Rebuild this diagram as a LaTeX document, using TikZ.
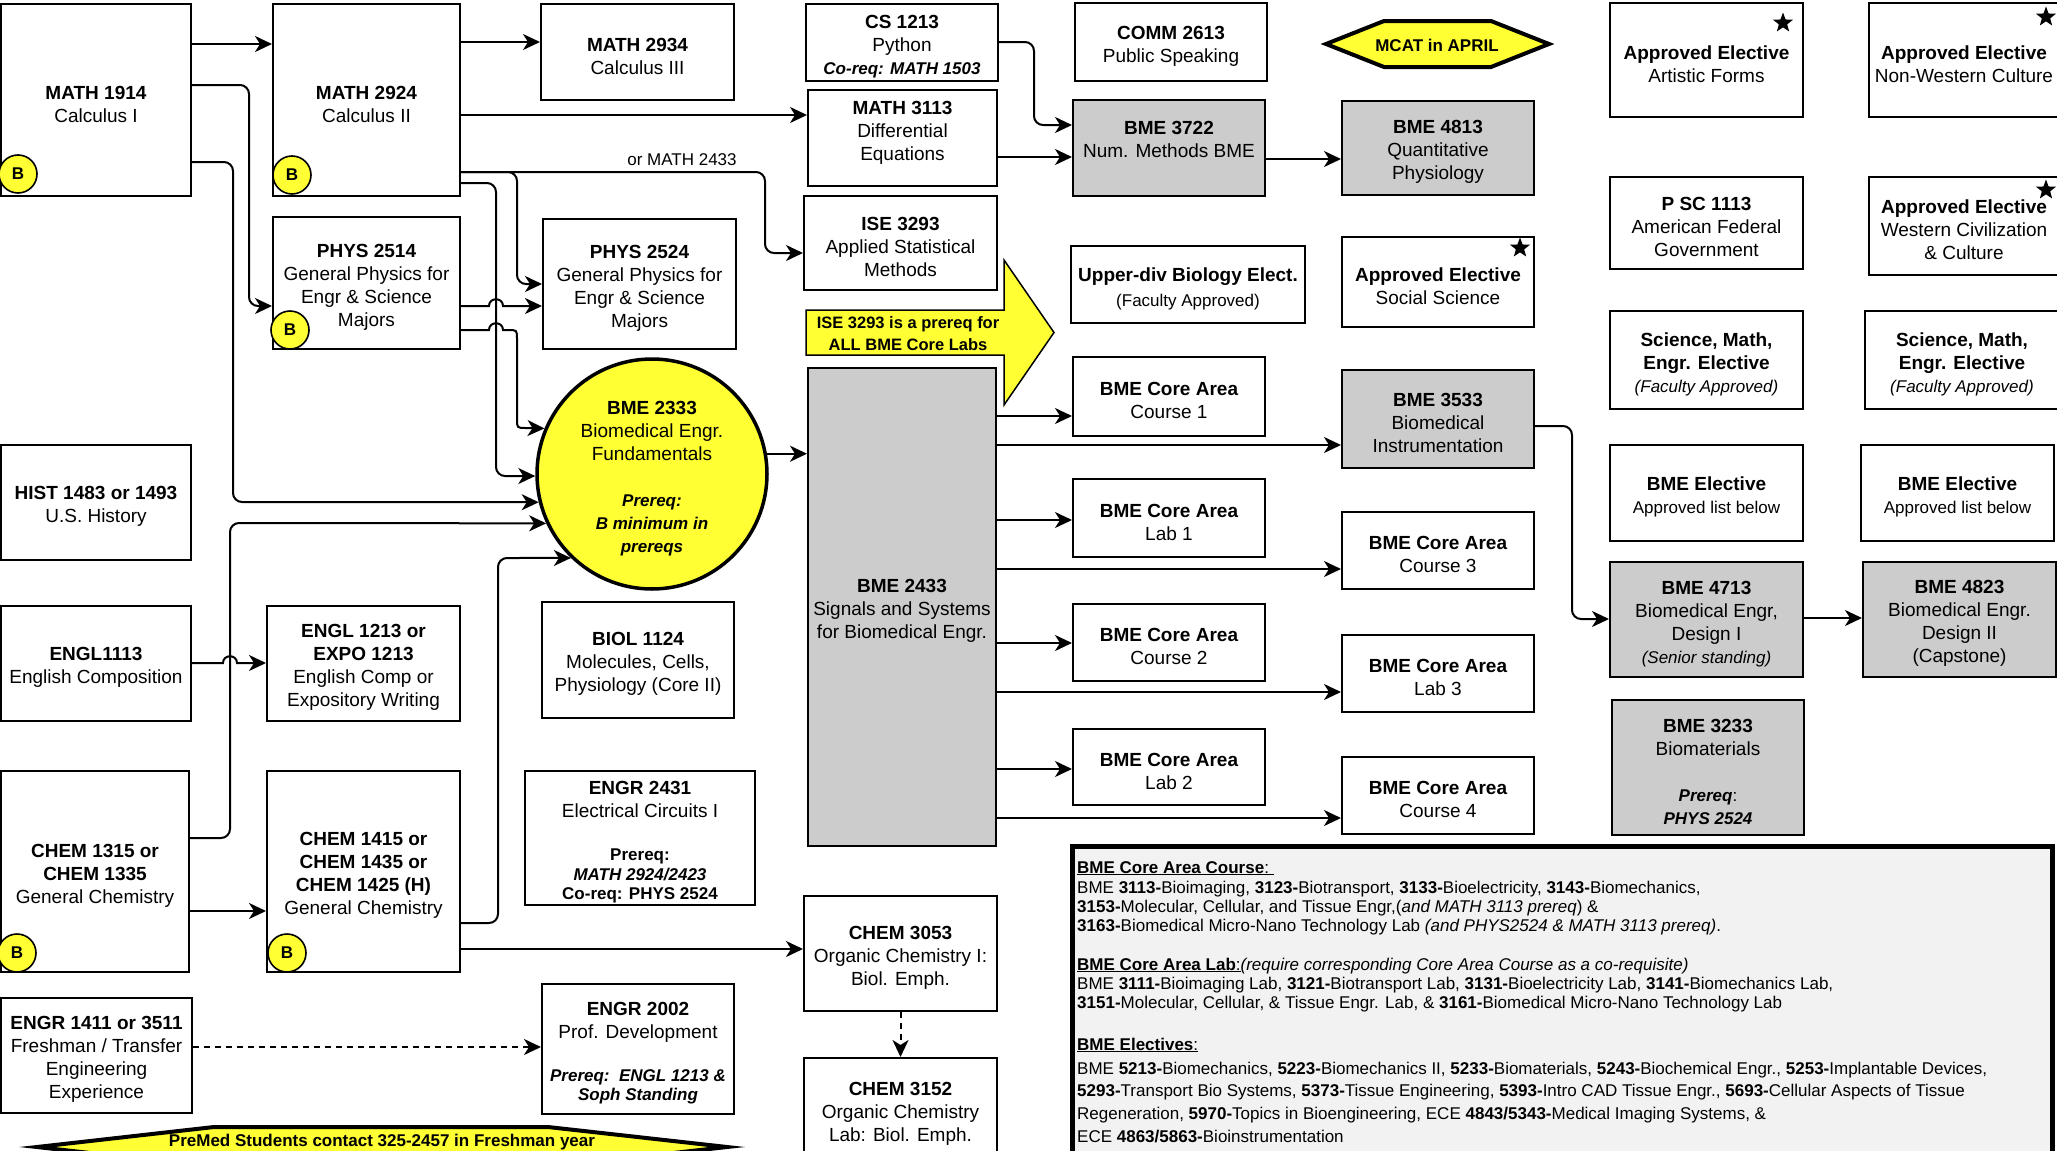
\documentclass[tikz,border=0pt]{standalone}
\usepackage{fontspec}
\setmainfont{Liberation Sans}
\usetikzlibrary{arrows.meta,shapes.geometric}
\newcommand\myfs[2]{\fontsize{#1}{#2}\selectfont}
\newcommand\bitx[1]{{\myfs{17}{23}\bfseries\itshape #1}}
\newcommand\smtx[1]{{\myfs{17}{23}#1}}
\newcommand\tx{\mbox{}\\[-1.3pt]}
\definecolor{yel}{HTML}{FFFF33}
\definecolor{gfill}{HTML}{CCCCCC}
\definecolor{lfill}{HTML}{F2F2F2}
\begin{document}
\begin{tikzpicture}[x=1pt,y=-1pt,
 box/.style={draw=black, line width=2pt, fill=white, align=center, inner sep=0pt, font=\myfs{19}{23}},
 gbox/.style={box, fill=gfill},
 sz/.style 2 args={minimum width=#1pt, minimum height=#2pt},
 arr/.style={draw=black, line width=2pt, -{Stealth[length=17pt,width=16pt,inset=5pt]}},
 dasharr/.style={arr, dash pattern=on 6pt off 5pt},
 bmark/.style={circle, draw=black, line width=1.6pt, fill=yel, minimum size=38pt, inner sep=0pt, font=\myfs{17}{20}\bfseries},
 starmark/.style={star, star points=5, star point ratio=2.4, fill=black, draw=none, minimum size=21pt, inner sep=0pt},
 legline/.style={anchor=base west, inner sep=0pt, font=\myfs{17}{19}},
 lbl/.style={inner sep=0pt, font=\myfs{17}{20}}
]
\useasboundingbox (0,0) rectangle (2057,1151);
\fill[white] (0,0) rectangle (2057,1151);

% ---------- left / middle course boxes ----------
\node[box, sz={190}{192}] (m1914) at (96,100) {\tx\textbf{MATH 1914}\\Calculus I};
\node[box, sz={187}{192}] (m2924) at (366.5,100) {\tx\textbf{MATH 2924}\\Calculus II};
\node[box, sz={193}{96}] (m2934) at (637.5,52) {\tx\textbf{MATH 2934}\\Calculus III};
\node[box, sz={187}{132}] (p2514) at (366.5,283) {\tx\textbf{PHYS 2514}\\General Physics for\\Engr \& Science\\Majors};
\node[box, sz={193}{130}] (p2524) at (639.5,284) {\tx\textbf{PHYS 2524}\\General Physics for\\Engr \& Science\\Majors};
\node[box, sz={192}{77}] (cs1213) at (902,42.5) {\tx\textbf{CS 1213}\\Python\\\bitx{Co-req: MATH 1503}};
\node[box, sz={189}{96}] (m3113) at (902.5,138) {\textbf{MATH 3113}\\Differential\\Equations\\[-8pt]\mbox{}};
\node[box, sz={193}{94}] (ise) at (900.5,243) {\tx\textbf{ISE 3293}\\Applied Statistical\\Methods};
\node[box, sz={192}{78}] (comm) at (1171,42) {\tx\textbf{COMM 2613}\\Public Speaking};
\node[gbox, sz={192}{96}] (b3722) at (1169,148) {\textbf{BME 3722}\\Num. Methods BME\\[-5pt]\mbox{}};
\node[gbox, sz={192}{94}] (b4813) at (1438,148) {\tx\textbf{BME 4813}\\Quantitative\\Physiology};
\node[box, sz={234}{77}] (upbio) at (1188,284.5) {\tx\textbf{Upper-div Biology Elect.}\\[2pt]\smtx{(Faculty Approved)}};
\node[box, sz={192}{90}] (social) at (1438,282) {\tx\textbf{Approved Elective}\\Social Science};

% ---------- right column boxes ----------
\node[box, sz={193}{114}] (artistic) at (1706.5,60) {\tx\textbf{Approved Elective}\\Artistic Forms};
\node[box, sz={190}{114}] (nonwest) at (1964,60) {\tx\textbf{Approved Elective}\\Non-Western Culture};
\node[box, sz={193}{92}] (psc) at (1706.5,223) {\tx\textbf{P SC 1113}\\American Federal\\Government};
\node[box, sz={190}{98}] (westciv) at (1964,226) {\tx\textbf{Approved Elective}\\Western Civilization\\\& Culture};
\node[box, sz={193}{98}] (sme1) at (1706.5,360) {\tx\textbf{Science, Math,}\\\textbf{Engr. Elective}\\\smtx{\itshape (Faculty Approved)}};
\node[box, sz={194}{98}] (sme2) at (1962,360) {\tx\textbf{Science, Math,}\\\textbf{Engr. Elective}\\\smtx{\itshape (Faculty Approved)}};
\node[box, sz={193}{96}] (bel1) at (1706.5,493) {\tx\textbf{BME Elective}\\\smtx{Approved list below}};
\node[box, sz={193}{96}] (bel2) at (1957.5,493) {\tx\textbf{BME Elective}\\\smtx{Approved list below}};
\node[gbox, sz={193}{115}] (b4713) at (1706.5,619.5) {\tx\textbf{BME 4713}\\Biomedical Engr,\\Design I\\\smtx{\itshape (Senior standing)}};
\node[gbox, sz={193}{115}] (b4823) at (1959.5,619.5) {\tx\textbf{BME 4823}\\Biomedical Engr.\\Design II\\(Capstone)};
\node[gbox, sz={192}{135}] (b3233) at (1708,767.5) {\tx\textbf{BME 3233}\\Biomaterials\\ \mbox{}\\\smtx{\textbf{\textit{Prereq}}:}\\\bitx{PHYS 2524}};

% ---------- BME core column ----------
\node[gbox, sz={188}{478}] (bme2433) at (902,607) {\tx\textbf{BME 2433}\\Signals and Systems\\for Biomedical Engr.};
\node[box, sz={192}{79}] (cc1) at (1169,396.5) {\tx\textbf{BME Core Area}\\Course 1};
\node[gbox, sz={192}{98}] (b3533) at (1438,419) {\tx\textbf{BME 3533}\\Biomedical\\Instrumentation};
\node[box, sz={192}{78}] (lab1) at (1169,518) {\tx\textbf{BME Core Area}\\Lab 1};
\node[box, sz={192}{77}] (c3) at (1438,550.5) {\tx\textbf{BME Core Area}\\Course 3};
\node[box, sz={192}{77}] (c2) at (1169,642.5) {\tx\textbf{BME Core Area}\\Course 2};
\node[box, sz={192}{77}] (lab3) at (1438,673.5) {\tx\textbf{BME Core Area}\\Lab 3};
\node[box, sz={192}{76}] (lab2) at (1169,767) {\tx\textbf{BME Core Area}\\Lab 2};
\node[box, sz={192}{77}] (c4) at (1438,795.5) {\tx\textbf{BME Core Area}\\Course 4};

% ---------- lower left ----------
\node[box, sz={190}{115}] (hist) at (96,502.5) {\tx\textbf{HIST 1483 or 1493}\\U.S. History};
\node[box, sz={190}{115}] (engl1113) at (96,663.5) {\tx\textbf{ENGL1113}\\English Composition};
\node[box, sz={193}{115}] (engl1213) at (363.5,663.5) {\tx\textbf{ENGL 1213 or}\\\textbf{EXPO 1213}\\English Comp or\\Expository Writing};
\node[box, sz={192}{116}] (biol) at (638,660) {\tx\textbf{BIOL 1124}\\Molecules, Cells,\\Physiology (Core II)};
\node[box, sz={188}{201}] (chem1315) at (95,871.5) {\tx\textbf{CHEM 1315 or}\\\textbf{CHEM 1335}\\General Chemistry};
\node[box, sz={193}{201}] (chem1415) at (363.5,871.5) {\tx\textbf{CHEM 1415 or}\\\textbf{CHEM 1435 or}\\\textbf{CHEM 1425 (H)}\\General Chemistry};
\node[box, sz={230}{134}] (engr2431) at (640,838) {\tx\textbf{ENGR 2431}\\Electrical Circuits I\\[20pt]{\myfs{17}{23}\textbf{Prereq:}}\\[-3.5pt]\bitx{MATH 2924/2423}\\[-3.5pt]{\myfs{17}{23}\textbf{Co-req: PHYS 2524}}};
\node[box, sz={193}{115}] (chem3053) at (900.5,953.5) {\tx\textbf{CHEM 3053}\\Organic Chemistry I:\\Biol. Emph.};
\node[box, sz={193}{103}] (chem3152) at (900.5,1109.5) {\tx\textbf{CHEM 3152}\\Organic Chemistry\\Lab: Biol. Emph.};
\node[box, sz={191}{115}] (engr1411) at (96.5,1055.5) {\tx\textbf{ENGR 1411 or 3511}\\Freshman / Transfer\\Engineering\\Experience};
\node[box, sz={192}{130}] (engr2002) at (638,1049) {\tx\textbf{ENGR 2002}\\Prof. Development\\[20pt]\bitx{Prereq:\ \ ENGL 1213 \&}\\[-4pt]\bitx{Soph Standing}};

% ---------- BME 2333 circle ----------
\node[circle, draw=black, line width=3.5pt, fill=yel, minimum size=230pt, inner sep=0pt, align=center, font=\myfs{19}{23}] (circ) at (652,474)
 {\tx\textbf{BME 2333}\\Biomedical Engr.\\Fundamentals\\ \mbox{}\\\bitx{Prereq:}\\\bitx{B minimum in}\\\bitx{prereqs}};

% ---------- B marks and stars ----------
\node[bmark] (bm1) at (18,174) {B};
\node[bmark] (bm2) at (292,175) {B};
\node[bmark] (bm3) at (290,330) {B};
\node[bmark] (bm4) at (17,953) {B};
\node[bmark] (bm5) at (287,953) {B};
\node[starmark] (st1) at (1520,248) {};
\node[starmark] (st2) at (1783,23) {};
\node[starmark] (st3) at (2046,17) {};
\node[starmark] (st4) at (2046,190) {};

% ---------- callouts ----------
\draw[line width=4pt, fill=yel, line join=miter] (1326,44) -- (1384,21) -- (1491,21) -- (1549,44) -- (1491,67) -- (1384,67) -- cycle;
\node[inner sep=0pt, font=\myfs{17}{20}\bfseries] (mcat) at (1437,45) {MCAT in APRIL};
\draw[line width=1.5pt, fill=yel, line join=miter] (806,310) -- (1004,310) -- (1004,260) -- (1054,332.5) -- (1004,405) -- (1004,355) -- (806,355) -- cycle;
\node[inner sep=0pt, align=center, font=\myfs{16.5}{22}\bfseries] (callout) at (908,334) {ISE 3293 is a prereq for\\ALL BME Core Labs};
\draw[line width=4pt, fill=yel, line join=miter, miter limit=20] (37,1147) -- (214,1127) -- (548,1127) -- (727,1147) -- (548,1167) -- (214,1167) -- cycle;
\node[inner sep=0pt, font=\myfs{17}{20}\bfseries] (premed) at (382,1142) {PreMed Students contact 325-2457 in Freshman year};

% ---------- legend ----------
\node[draw=black, line width=5pt, fill=lfill, minimum width=980pt, minimum height=330pt, inner sep=0pt] (legend) at (1562,1011) {};
\node[legline] (lg1) at (1077,873) {\underline{\textbf{BME Core Area Course}:\ }};
\node[legline] (lg2) at (1077,893) {BME \textbf{3113-}Bioimaging, \textbf{3123-}Biotransport, \textbf{3133-}Bioelectricity, \textbf{3143-}Biomechanics,};
\node[legline] (lg3) at (1077,912) {\textbf{3153-}Molecular, Cellular, and Tissue Engr,(\textit{and MATH 3113 prereq}) \&};
\node[legline] (lg4) at (1077,931) {\textbf{3163-}Biomedical Micro-Nano Technology Lab \textit{(and PHYS2524 \& MATH 3113 prereq)}.};
\node[legline] (lg5) at (1077,970) {\underline{\textbf{BME Core Area Lab}:}\textit{(require corresponding Core Area Course as a co-requisite)}};
\node[legline] (lg6) at (1077,989) {BME \textbf{3111-}Bioimaging Lab, \textbf{3121-}Biotransport Lab, \textbf{3131-}Bioelectricity Lab, \textbf{3141-}Biomechanics Lab,};
\node[legline] (lg7) at (1077,1008) {\textbf{3151-}Molecular, Cellular, \& Tissue Engr. Lab, \& \textbf{3161-}Biomedical Micro-Nano Technology Lab};
\node[legline] (lg8) at (1077,1050) {\underline{\textbf{BME Electives}:}};
\node[legline] (lg9) at (1077,1074) {BME \textbf{5213-}Biomechanics, \textbf{5223-}Biomechanics II, \textbf{5233-}Biomaterials, \textbf{5243-}Biochemical Engr., \textbf{5253-}Implantable Devices,};
\node[legline] (lg10) at (1077,1096) {\textbf{5293-}Transport Bio Systems, \textbf{5373-}Tissue Engineering, \textbf{5393-}Intro CAD Tissue Engr., \textbf{5693-}Cellular Aspects of Tissue};
\node[legline] (lg11) at (1077,1119) {Regeneration, \textbf{5970-}Topics in Bioengineering, ECE \textbf{4843/5343-}Medical Imaging Systems, \&};
\node[legline] (lg12) at (1077,1142) {ECE \textbf{4863/5863-}Bioinstrumentation};

% ---------- connectors ----------
\begin{scope}[rounded corners=9pt]
\draw[arr] (m1914.east |- 0,44) -- (m2924.west |- 0,44);
\draw[arr] (m1914.east |- 0,85) -- (249,85) -- (249,306) -- (p2514.west |- 0,306);
\draw[arr] (m1914.east |- 0,162) -- (233,162) -- (233,502) -- (circ.194);
\draw[arr] (m2924.east |- 0,42) -- (m2934.west |- 0,42);
\draw[arr] (m2924.east |- 0,115) -- (m3113.west |- 0,115);
\draw[arr] (m2924.east |- 0,172) -- (765,172) -- (765,253) -- (ise.west |- 0,253);
\draw[arr] (m2924.east |- 0,172) -- (517,172) -- (517,284) -- (p2524.west |- 0,284);
\draw[arr] (m2924.east |- 0,183) -- (496,183) -- (496,476) -- (circ.181);
\draw[arr] (chem1315.east |- 0,838) -- (230,838) -- (230,523) -- (circ.205);
\draw[arr] (chem1415.east |- 0,923) -- (498,923) -- (498,558) -- (circ.226);
\draw[arr] (cs1213.east |- 0,42) -- (1034,42) -- (1034,125) -- (b3722.west |- 0,125);
\draw[arr] (b3533.east |- 0,426) -- (1572,426) -- (1572,619) -- (b4713.west |- 0,619);
\end{scope}
\node[lbl] (lblor) at (682,160) {or MATH 2433};

\draw[arr] (p2514.east |- 0,306) -- (489,306) .. controls (489,297) and (503,297) .. (503,306) -- (p2524.west |- 0,306);
\draw[arr] (p2514.east |- 0,330) -- (489,330) .. controls (489,321) and (503,321) .. (503,330) -- (508,330) .. controls (517,330) .. (517,339) -- (517,419) .. controls (517,428) .. (526,428) -- (circ.157);
\draw[arr] (engl1113.east |- 0,663) -- (223,663) .. controls (223,654) and (237,654) .. (237,663) -- (engl1213.west |- 0,663);
\draw[arr] (chem1315.east |- 0,911) -- (chem1415.west |- 0,911);
\draw[arr] (chem1415.east |- 0,949) -- (chem3053.west |- 0,949);
\draw[dasharr] (engr1411.east |- 0,1047) -- (engr2002.west |- 0,1047);
\draw[dasharr] (chem3053.south) -- (chem3152.north);
\draw[arr] (circ.10) -- (bme2433.west |- circ.10);
\draw[arr] (m3113.east |- 0,157) -- (b3722.west |- 0,157);
\draw[arr] (b3722.east |- 0,159) -- (b4813.west |- 0,159);
\draw[arr] (bme2433.east |- 0,416) -- (cc1.west |- 0,416);
\draw[arr] (bme2433.east |- 0,445) -- (b3533.west |- 0,445);
\draw[arr] (bme2433.east |- 0,520) -- (lab1.west |- 0,520);
\draw[arr] (bme2433.east |- 0,569) -- (c3.west |- 0,569);
\draw[arr] (bme2433.east |- 0,643) -- (c2.west |- 0,643);
\draw[arr] (bme2433.east |- 0,692) -- (lab3.west |- 0,692);
\draw[arr] (bme2433.east |- 0,769) -- (lab2.west |- 0,769);
\draw[arr] (bme2433.east |- 0,818) -- (c4.west |- 0,818);
\draw[arr] (b4713.east |- 0,618) -- (b4823.west |- 0,618);
\end{tikzpicture}
\end{document}
